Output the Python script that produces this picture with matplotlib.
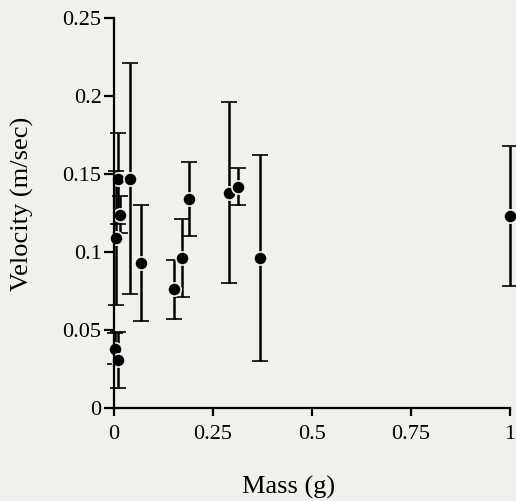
import matplotlib
matplotlib.use("Agg")
import matplotlib.pyplot as plt

# mass (g), mean velocity (m/sec) and error half-width per point
mass = [0.002, 0.009, 0.005, 0.015, 0.010, 0.040, 0.067, 0.152, 0.171,
        0.190, 0.290, 0.313, 0.370, 1.000]
velocity = [0.038, 0.031, 0.109, 0.124, 0.147, 0.147, 0.093, 0.076, 0.096,
            0.134, 0.138, 0.142, 0.096, 0.123]
error = [0.010, 0.018, 0.043, 0.012, 0.029, 0.074, 0.037, 0.019, 0.025,
         0.024, 0.058, 0.012, 0.066, 0.045]

x_ticks = [0, 0.25, 0.5, 0.75, 1]
x_labels = ["0", "0.25", "0.5", "0.75", "1"]
y_ticks = [0, 0.05, 0.1, 0.15, 0.2, 0.25]
y_labels = ["0", "0.05", "0.1", "0.15", "0.2", "0.25"]

bg = "#f1f0ec"
plt.rcParams["font.family"] = ["Liberation Serif", "DejaVu Serif"]

fig = plt.figure(figsize=(5.16, 5.01), dpi=100, facecolor=bg)
ax = fig.add_axes([0.221, 0.1856, 0.767, 0.7784], facecolor=bg)

ax.errorbar(mass, velocity, yerr=error, fmt="o", color="black",
            markersize=9.5, markeredgecolor=bg, markeredgewidth=1.2,
            elinewidth=1.8, capsize=6, capthick=1.8, clip_on=False)

ax.set_xlim(0, 1)
ax.set_ylim(0, 0.25)
ax.set_xticks(x_ticks)
ax.set_xticklabels(x_labels)
ax.set_yticks(y_ticks)
ax.set_yticklabels(y_labels)

for side in ["top", "right"]:
    ax.spines[side].set_visible(False)
for side in ["left", "bottom"]:
    ax.spines[side].set_linewidth(1.6)

ax.tick_params(axis="y", direction="out", length=7, width=1.6,
               labelsize=16, pad=2)
ax.tick_params(axis="x", direction="out", length=6, width=1.6,
               labelsize=16, pad=6)

ax.set_xlabel("Mass (g)", fontsize=19, va="center")
ax.xaxis.set_label_coords(0.44, -0.203)
ax.set_ylabel("Velocity (m/sec)", fontsize=19, va="center")
ax.yaxis.set_label_coords(-0.232, 0.523)

fig.savefig("out.png", dpi=100, facecolor=bg)
